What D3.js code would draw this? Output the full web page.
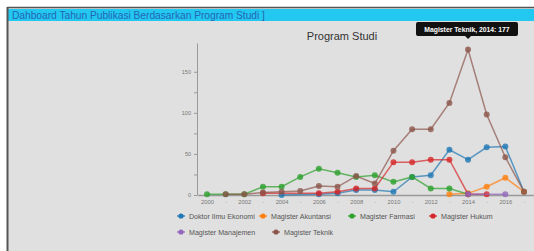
<!DOCTYPE html>
<html>
<head>
<meta charset="utf-8">
<script src="https://cdn.jsdelivr.net/npm/d3@7"></script>
<style>
  body { margin: 0; background: #fff; }
  svg { display: block; font-family: "Liberation Sans", Arial, sans-serif; }
</style>
</head>
<body>
<svg id="chart" width="534" height="251"></svg>
<script>
// data
var years = [2000, 2001, 2002, 2003, 2004, 2005, 2006, 2007, 2008, 2009,
             2010, 2011, 2012, 2013, 2014, 2015, 2016, 2017];
var seriesNames = ["Doktor Ilmu Ekonomi", "Magister Akuntansi", "Magister Farmasi",
                   "Magister Hukum", "Magister Manajemen", "Magister Teknik"];
var doktorIlmuEkonomi = [null, null, null, null, 0, null, 1, 2, 6, 6, 4, 22, 24, 55, 43, 58, 59, 4];
var magisterAkuntansi = [null, null, null, null, null, null, null, null, null, null, null, null, null, 1, 2, 10, 21, 4];
var magisterFarmasi   = [1, 1, 1, 10, 10, 22, 32, 27, 22, 24, 16, 22, 8, 8, 1, null, null, null];
var magisterHukum     = [null, null, null, 2, null, null, 2, 4, 8, 8, 40, 40, 43, 43, 1, 1, null, null];
var magisterManajemen = [null, null, null, null, null, null, null, null, null, null, null, null, null, null, 1, null, 1, null];
var magisterTeknik    = [null, 1, 1, 3, 4, 5, 11, 10, 23, 14, 54, 80, 80, 112, 177, 98, 46, 4];
var yTicks = [0, 25, 50, 75, 100, 125, 150];
var colors = ["#1f77b4", "#ff7f0e", "#2ca02c", "#d62728", "#9467bd", "#8c564b"];

var allValues = [doktorIlmuEkonomi, magisterAkuntansi, magisterFarmasi,
                 magisterHukum, magisterManajemen, magisterTeknik];

var svg = d3.select("#chart");

// frame + header
svg.append("rect").attr("x", 7).attr("y", 7).attr("width", 527).attr("height", 244).attr("fill", "#e0e0e0");
svg.append("rect").attr("x", 8).attr("y", 9).attr("width", 526).attr("height", 12).attr("fill", "#22c8ef");
svg.append("line").attr("x1", 7).attr("x2", 534).attr("y1", 7.5).attr("y2", 7.5)
  .style("stroke", "#555").style("stroke-width", 1.5);
svg.append("line").attr("x1", 7.5).attr("x2", 7.5).attr("y1", 7).attr("y2", 251)
  .style("stroke", "#555").style("stroke-width", 2);
svg.append("text").attr("x", 12).attr("y", 18.5)
  .style("font-size", "10.2px").style("fill", "#2565b5")
  .text("Dahboard Tahun Publikasi Berdasarkan Program Studi ]");

// chart title
svg.append("text").attr("x", 342).attr("y", 40).attr("text-anchor", "middle")
  .style("font-size", "11px").style("fill", "#333")
  .text("Program Studi");

var x = d3.scaleLinear().domain([1999.5, 2017.5]).range([197.7, 533.3]);
var y = d3.scaleLinear().domain([0, 185]).range([195, 43]);

// y axis
var yAxis = svg.append("g")
  .attr("transform", "translate(197,0)")
  .call(d3.axisLeft(y).tickValues(yTicks).tickSize(3).tickSizeOuter(0)
    .tickFormat(function(d) { return d % 50 == 0 ? d : ""; }));
yAxis.select(".domain").style("stroke", "#999");
yAxis.selectAll(".tick line").style("stroke", "#999");
yAxis.selectAll("text").style("font-size", "5.5px").style("fill", "#777").attr("x", -6);

// x axis
var xAxis = svg.append("g")
  .attr("transform", "translate(0,195)")
  .call(d3.axisBottom(x).tickValues(years).tickSize(0).tickSizeOuter(0)
    .tickFormat(function(d) { return d % 2 == 0 ? d : "·"; }));
xAxis.select(".domain").style("stroke", "#999").style("stroke-width", 1.5);
xAxis.selectAll("text").style("font-size", "5.8px").style("fill", "#777").attr("y", 5);

// lines
var line = d3.line()
  .defined(function(d) { return d.v != null; })
  .x(function(d) { return x(d.year); })
  .y(function(d) { return y(d.v); });

allValues.forEach(function(vals, i) {
  var pts = years.map(function(yr, j) { return { year: yr, v: vals[j] }; })
    .filter(function(d) { return d.v != null; });
  svg.append("path")
    .datum(pts)
    .attr("d", line)
    .style("fill", "none")
    .style("stroke", colors[i])
    .style("stroke-width", 1.5)
    .style("opacity", 0.7);
  svg.append("g").selectAll("circle")
    .data(pts)
    .enter()
    .append("circle")
    .attr("cx", function(d) { return x(d.year); })
    .attr("cy", function(d) { return y(d.v); })
    .attr("r", 3)
    .style("fill", colors[i])
    .style("opacity", 0.8);
});

// legend
var legendPos = [[181, 216], [263, 216], [352, 216], [433, 216], [181, 232], [276, 232]];
var legend = svg.append("g").selectAll("g")
  .data(seriesNames)
  .enter()
  .append("g")
  .attr("transform", function(d, i) { return "translate(" + legendPos[i][0] + "," + legendPos[i][1] + ")"; });
legend.append("line").attr("x1", -4).attr("x2", 4)
  .style("stroke", function(d, i) { return colors[i]; }).style("stroke-width", 1.2);
legend.append("circle").attr("r", 2.6).style("fill", function(d, i) { return colors[i]; });
legend.append("text").attr("x", 8).attr("y", 2.5)
  .style("font-size", "7.1px").style("fill", "#555")
  .text(function(d) { return d; });

// tooltip
var tipX = x(2014), tipY = y(177);
var tip = svg.append("g");
tip.append("rect").attr("x", 416).attr("y", 22).attr("width", 102).attr("height", 14)
  .attr("rx", 2).style("fill", "#111");
tip.append("path")
  .attr("d", "M" + (tipX - 3) + ",36L" + tipX + ",39L" + (tipX + 3) + ",36Z")
  .style("fill", "#111");
tip.append("text").attr("x", 467).attr("y", 31.5).attr("text-anchor", "middle")
  .style("font-size", "6.8px").style("font-weight", "bold").style("fill", "#fff")
  .text("Magister Teknik, 2014: 177");
</script>
</body>
</html>
